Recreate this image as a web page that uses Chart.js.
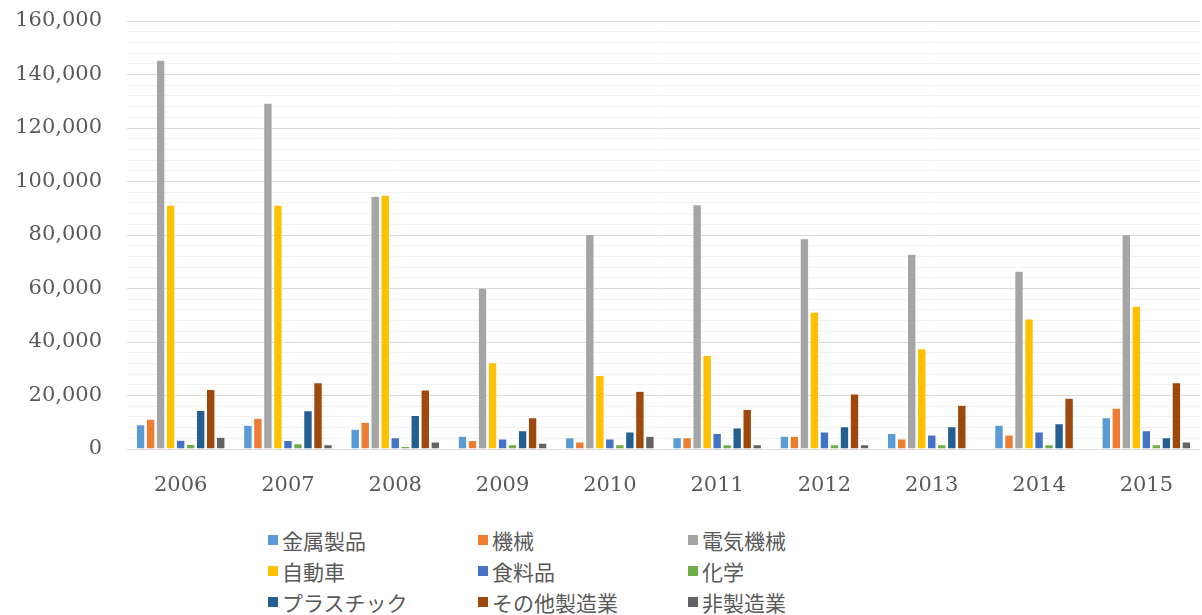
<!DOCTYPE html>
<html>
<head>
<meta charset="utf-8">
<script src="https://cdn.jsdelivr.net/npm/chart.js@4/dist/chart.umd.min.js"></script>
<style>
  html, body { margin: 0; padding: 0; background: #fff; }
  #wrap { position: relative; width: 1202px; height: 615px; }
  #chart-box { position: absolute; left: 0; top: 0; width: 1202px; height: 510px; }
  #legend {
    position: absolute; left: 268px; top: 524px;
    display: grid; grid-template-columns: 210px 210px 220px;
    grid-auto-rows: 31px;
    font-family: "Noto Sans CJK JP", sans-serif; font-size: 21px; color: #595959;
  }
  #legend div { display: flex; align-items: center; white-space: nowrap; }
  #legend span.box { display: inline-block; width: 10px; height: 10px; margin-right: 4px; }
</style>
</head>
<body>
<div id="wrap">
  <div id="chart-box"><canvas id="chart"></canvas></div>
  <div id="legend"></div>
</div>
<script>
// years on the x axis
const years = ['2006', '2007', '2008', '2009', '2010', '2011', '2012', '2013', '2014', '2015'];

// series names (legend order)
const seriesNames = ['金属製品', '機械', '電気機械', '自動車', '食料品', '化学', 'プラスチック', 'その他製造業', '非製造業'];

// values
const metal      = [9100, 8900, 7400, 4800, 4200, 4200, 4800, 5800, 8900, 11700];
const machinery  = [11200, 11500, 10000, 3200, 2700, 4200, 4800, 3800, 5300, 15300];
const electric   = [145400, 129300, 94500, 60200, 80200, 91300, 78600, 72800, 66500, 80100];
const autos      = [91200, 91200, 94900, 32300, 27500, 35000, 51200, 37500, 48600, 53400];
const food       = [3300, 3200, 4200, 3800, 3800, 5800, 6400, 5300, 6400, 6900];
const chemical   = [1700, 2000, 1000, 1600, 1600, 1600, 1600, 1600, 1600, 1600];
const plastic    = [14400, 14300, 12600, 6900, 6400, 7900, 8400, 8400, 9500, 4200];
const otherMfg   = [22300, 24800, 22100, 11700, 21600, 14800, 20600, 16400, 19000, 24800];
const nonMfg     = [4400, 1600, 2700, 2200, 4800, 1600, 1600, 0, 0, 2700];

// y axis ticks
const yMax = 160000;
const yMajor = 20000;
const yMinor = 4000;

const colors = ['#5B9BD5', '#ED7D31', '#A5A5A5', '#FFC000', '#4472C4', '#70AD47', '#255E91', '#9E480E', '#636363'];
const allValues = [metal, machinery, electric, autos, food, chemical, plastic, otherMfg, nonMfg];

const datasets = seriesNames.map((name, i) => ({
  label: name,
  data: allValues[i],
  backgroundColor: colors[i],
  borderColor: '#ffffff',
  borderWidth: 0.6,
  categoryPercentage: 0.84,
  barPercentage: 0.86,
}));

const axisFont = { family: '"DejaVu Serif", serif', size: 21 };

new Chart(document.getElementById('chart'), {
  type: 'bar',
  data: { labels: years, datasets: datasets },
  options: {
    responsive: true,
    maintainAspectRatio: false,
    animation: false,
    layout: { padding: { top: 21, right: 2, left: 0, bottom: 0 } },
    plugins: {
      legend: { display: false },
      tooltip: { enabled: false },
    },
    scales: {
      x: {
        grid: { display: false, drawTicks: false },
        border: { display: false },
        ticks: { color: '#595959', font: axisFont, padding: 24 },
        afterFit: scale => {
          scale.height = 61;
          scale.paddingLeft = 0;
          scale.paddingRight = 0;
        },
      },
      y: {
        min: 0,
        max: yMax,
        border: { display: false },
        grid: {
          drawTicks: false,
          color: ctx => (ctx.tick && ctx.tick.value % yMajor === 0) ? '#d9d9d9' : '#f2f2f2',
          lineWidth: 1,
        },
        ticks: {
          stepSize: yMinor,
          autoSkip: false,
          color: '#595959',
          font: axisFont,
          padding: 25,
          callback: v => v % yMajor === 0 ? v.toLocaleString('en-US') : '',
        },
        afterFit: scale => {
          scale.width = 127;
          scale.paddingTop = 0;
          scale.paddingBottom = 0;
        },
      },
    },
  },
});

// legend in three columns like the original
const legendBox = document.getElementById('legend');
seriesNames.forEach((name, i) => {
  const item = document.createElement('div');
  const box = document.createElement('span');
  box.className = 'box';
  box.style.background = colors[i];
  item.appendChild(box);
  item.appendChild(document.createTextNode(name));
  legendBox.appendChild(item);
});
</script>
</body>
</html>
